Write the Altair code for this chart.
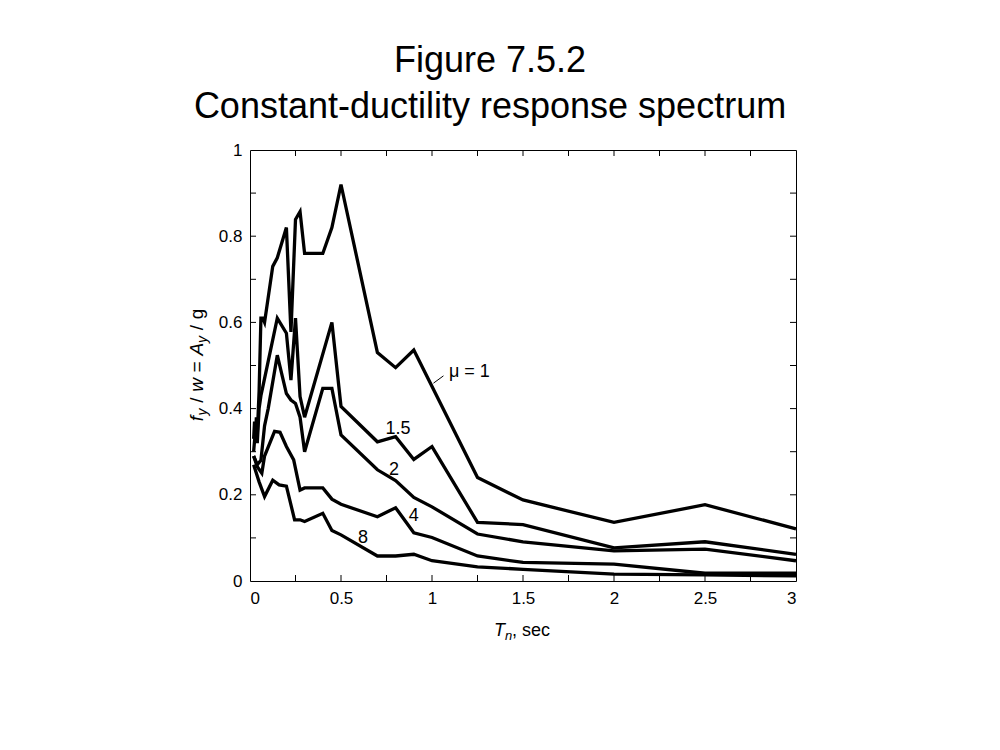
import altair as alt
import pandas as pd

# ---- data ----
mu1_T = [0.02, 0.025, 0.03, 0.035, 0.04, 0.05, 0.06, 0.07, 0.08, 0.125, 0.15, 0.20, 0.225, 0.25, 0.275, 0.30, 0.40, 0.45, 0.50, 0.70, 0.80, 0.90, 1.25, 1.50, 2.0, 2.5, 3.0]
mu1_v = [0.33, 0.37, 0.33, 0.38, 0.34, 0.44, 0.61, 0.61, 0.60, 0.73, 0.75, 0.82, 0.578, 0.839, 0.857, 0.76, 0.76, 0.82, 0.92, 0.53, 0.495, 0.536, 0.24, 0.188, 0.136, 0.177, 0.121]

mu15_T = [0.02, 0.03, 0.04, 0.05, 0.06, 0.07, 0.15, 0.20, 0.225, 0.25, 0.275, 0.30, 0.45, 0.50, 0.70, 0.80, 0.90, 1.0, 1.25, 1.5, 2.0, 2.5, 3.0]
mu15_v = [0.30, 0.35, 0.32, 0.40, 0.43, 0.45, 0.61, 0.575, 0.466, 0.61, 0.428, 0.38, 0.60, 0.405, 0.323, 0.335, 0.282, 0.312, 0.136, 0.131, 0.077, 0.091, 0.062]

mu2_T = [0.02, 0.04, 0.06, 0.08, 0.10, 0.15, 0.20, 0.225, 0.25, 0.275, 0.30, 0.40, 0.45, 0.50, 0.70, 0.80, 0.90, 1.0, 1.25, 1.5, 2.0, 2.5, 3.0]
mu2_v = [0.29, 0.27, 0.28, 0.36, 0.40, 0.524, 0.435, 0.42, 0.412, 0.38, 0.30, 0.447, 0.447, 0.339, 0.258, 0.233, 0.194, 0.172, 0.109, 0.091, 0.07, 0.074, 0.047]

mu4_T = [0.02, 0.04, 0.065, 0.08, 0.135, 0.165, 0.20, 0.24, 0.275, 0.30, 0.40, 0.45, 0.50, 0.70, 0.80, 0.90, 1.0, 1.25, 1.5, 2.0, 2.5, 3.0]
mu4_v = [0.29, 0.265, 0.25, 0.29, 0.347, 0.345, 0.312, 0.281, 0.211, 0.216, 0.216, 0.19, 0.178, 0.149, 0.17, 0.112, 0.101, 0.058, 0.043, 0.039, 0.018, 0.018]

mu8_T = [0.02, 0.05, 0.08, 0.125, 0.16, 0.20, 0.245, 0.275, 0.30, 0.40, 0.45, 0.50, 0.70, 0.80, 0.90, 1.0, 1.25, 1.5, 2.0, 2.5, 3.0]
mu8_v = [0.27, 0.23, 0.196, 0.234, 0.223, 0.22, 0.142, 0.142, 0.138, 0.157, 0.117, 0.107, 0.058, 0.058, 0.062, 0.047, 0.033, 0.027, 0.016, 0.014, 0.012]

curve_labels = ["1.5", "2", "4", "8"]
curve_label_T = [0.813, 0.791, 0.90, 0.621]
curve_label_v = [0.352, 0.258, 0.150, 0.100]

x_tick_labels = [0, 0.5, 1, 1.5, 2, 2.5, 3]
y_tick_labels = [0, 0.2, 0.4, 0.6, 0.8, 1]
x_minor = [0.25, 0.5, 0.75, 1.0, 1.25, 1.5, 1.75, 2.0, 2.25, 2.5, 2.75]
y_minor = [0.1, 0.2, 0.3, 0.4, 0.5, 0.6, 0.7, 0.8, 0.9]

W, H = 546, 431
FONT = "Liberation Sans"

rows = []
for name, Ts, vs in [("1", mu1_T, mu1_v), ("1.5", mu15_T, mu15_v), ("2", mu2_T, mu2_v),
                     ("4", mu4_T, mu4_v), ("8", mu8_T, mu8_v)]:
    for i, (t, v) in enumerate(zip(Ts, vs)):
        rows.append({"mu": name, "i": i, "T": t, "v": v})
df = pd.DataFrame(rows)

xs = alt.Scale(domain=[0, 3], nice=False, zero=False)
ys = alt.Scale(domain=[0, 1], nice=False, zero=False)

lines = alt.Chart(df).mark_line(color="black", strokeWidth=3.3, strokeJoin="miter").encode(
    x=alt.X("T:Q", scale=xs,
            axis=alt.Axis(values=x_tick_labels, format=".1~f", title=None, labelPadding=9)),
    y=alt.Y("v:Q", scale=ys,
            axis=alt.Axis(values=y_tick_labels, format=".1~f", title=None, labelPadding=8)),
    detail="mu:N",
    order="i:Q",
)

xt = pd.DataFrame({"t": x_minor})
yt = pd.DataFrame({"t": y_minor})
tick_bottom = alt.Chart(xt).mark_rule(color="black", strokeWidth=1).encode(
    x=alt.X("t:Q", scale=xs), y=alt.value(H), y2=alt.value(H - 6))
tick_top = alt.Chart(xt).mark_rule(color="black", strokeWidth=1).encode(
    x=alt.X("t:Q", scale=xs), y=alt.value(0), y2=alt.value(6))
tick_left = alt.Chart(yt).mark_rule(color="black", strokeWidth=1).encode(
    y=alt.Y("t:Q", scale=ys), x=alt.value(0), x2=alt.value(6))
tick_right = alt.Chart(yt).mark_rule(color="black", strokeWidth=1).encode(
    y=alt.Y("t:Q", scale=ys), x=alt.value(W), x2=alt.value(W - 6))

lab_df = pd.DataFrame({"lab": curve_labels, "T": curve_label_T, "v": curve_label_v})
labels = alt.Chart(lab_df).mark_text(font=FONT, fontSize=18, color="black",
                                     align="center", baseline="middle").encode(
    x=alt.X("T:Q", scale=xs), y=alt.Y("v:Q", scale=ys), text="lab:N")

mu_df = pd.DataFrame({"lab": ["\u03bc = 1"], "T": [1.093], "v": [0.485]})
mu_lab = alt.Chart(mu_df).mark_text(font=FONT, fontSize=18, color="black",
                                    align="left", baseline="middle").encode(
    x=alt.X("T:Q", scale=xs), y=alt.Y("v:Q", scale=ys), text="lab:N")
ptr_df = pd.DataFrame({"T": [1.008], "T2": [1.063], "v": [0.459], "v2": [0.476]})
ptr = alt.Chart(ptr_df).mark_rule(color="black", strokeWidth=1).encode(
    x=alt.X("T:Q", scale=xs), x2="T2:Q", y=alt.Y("v:Q", scale=ys), y2="v2:Q")

one = pd.DataFrame({"a": [0]})


def txt(s, x, y, size, align="center", baseline="alphabetic", italic=False, angle=0):
    kw = dict(font=FONT, fontSize=size, color="black", align=align, baseline=baseline)
    if italic:
        kw["fontStyle"] = "italic"
    if angle:
        kw["angle"] = angle
    return alt.Chart(one).mark_text(**kw).encode(x=alt.value(x), y=alt.value(y), text=alt.value(s))


title1 = txt("Figure 7.5.2", 240, -78, 36)
title2 = txt("Constant-ductility response spectrum", 240, -32, 36)

# x axis title: T_n, sec
fs = 18
sub = 13
pieces_x = [("T", fs, True, 0.611 * fs, 0, 0), ("n", sub, True, 0.556 * sub, 4, 0),
            (",", fs, False, 0.278 * fs, 0, 0), ("sec", fs, False, 1.556 * fs, 0, 0.278 * fs)]
total = sum(p[3] + p[5] for p in pieces_x)
cx = 522 - 250
x0 = cx - total / 2
xl = []
for s, size, it, w, dy, gap in pieces_x:
    x0 += gap
    xl.append(txt(s, x0, 486 + dy, size, align="left", italic=it))
    x0 += w

# y axis title: f_y / w = A_y / g (rotated), pieces: (text, size, italic, width, shift, gap before)
fy = 19
sy = 14
g = 0.3 * fy
pieces_y = [("f", fy, True, 0.278 * fy, 0, 0), ("y", sy, True, 0.5 * sy, 4, 0.5),
            ("/", fy, False, 0.278 * fy, 0, g), ("w", fy, True, 0.722 * fy, 0, g),
            ("=", fy, False, 0.584 * fy, 0, g), ("A", fy, True, 0.667 * fy, 0, g),
            ("y", sy, True, 0.5 * sy, 4, 0), ("/", fy, False, 0.278 * fy, 0, g),
            ("g", fy, False, 0.556 * fy, 0, g)]
total = sum(p[3] + p[5] for p in pieces_y)
cy = 365 - 150
s0 = cy + total / 2
yl = []
for s, size, it, w, dx, gap in pieces_y:
    s0 -= gap
    yl.append(txt(s, -47 + dx, s0, size, align="left", italic=it, angle=270))
    s0 -= w

chart = alt.layer(lines, tick_bottom, tick_top, tick_left, tick_right, labels, mu_lab, ptr,
                  title1, title2, *xl, *yl).properties(
    width=W, height=H,
    autosize=alt.AutoSizeParams(type="none"),
    padding={"left": 242, "top": 142, "right": 190, "bottom": 150},
    background="white",
).configure_view(stroke="black", strokeWidth=1).configure_axis(
    domain=False, ticks=False, grid=False, labelFont=FONT, labelFontSize=17, labelColor="black"
)

chart.save("out.html", embed_options={"renderer": "svg", "actions": False})
